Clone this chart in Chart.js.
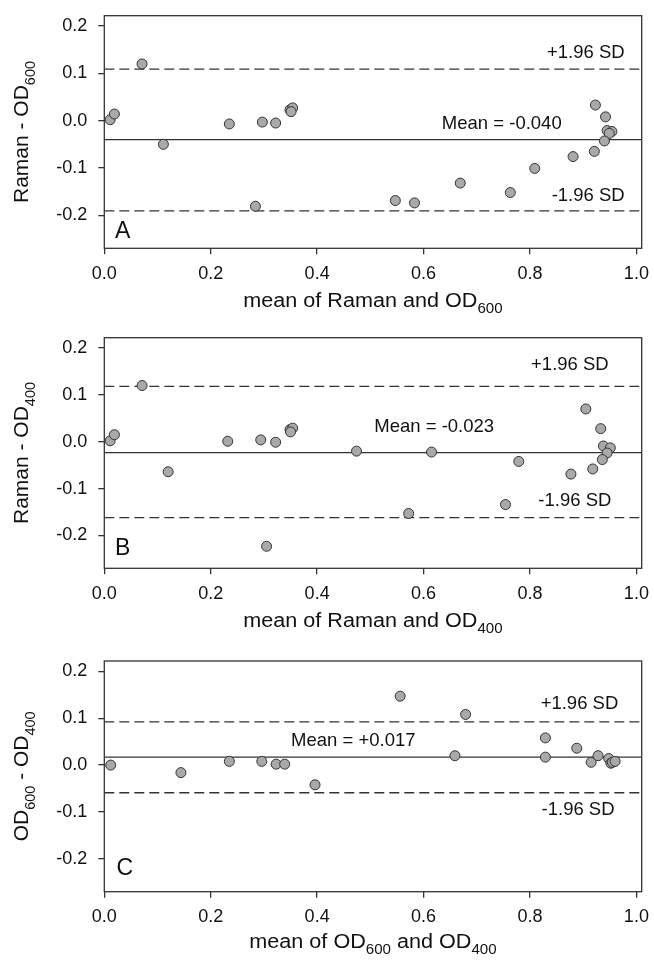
<!DOCTYPE html>
<html>
<head>
<meta charset="utf-8">
<script src="https://cdn.jsdelivr.net/npm/chart.js@4.4.1/dist/chart.umd.min.js"></script>
<style>
  html, body { margin: 0; padding: 0; background: #fff; }
  #wrap { position: relative; width: 654px; height: 964px; }
  canvas { position: absolute; left: 0; }
</style>
</head>
<body>
<div id="wrap">
  <canvas id="chartA" width="654" height="325" style="top:0px"></canvas>
  <canvas id="chartB" width="654" height="325" style="top:320px"></canvas>
  <canvas id="chartC" width="654" height="334" style="top:630px"></canvas>
</div>
<script>
// axes
const X_MIN = 0, X_MAX = 1.01;
const Y_MIN = -0.27, Y_MAX = 0.222;
const xTicks = [0, 0.2, 0.4, 0.6, 0.8, 1.0];
const yTicks = [-0.2, -0.1, 0.0, 0.1, 0.2];

// A : Raman - OD600
const meanA = [0.011, 0.019, 0.071, 0.111, 0.235, 0.284, 0.297, 0.322, 0.349, 0.354, 0.351, 0.547,
               0.583, 0.669, 0.763, 0.809, 0.881, 0.921, 0.923, 0.942, 0.945, 0.954, 0.949, 0.940];
const diffA = [0.002, 0.014, 0.120, -0.050, -0.007, -0.181, -0.003, -0.005, 0.023, 0.027, 0.019, -0.169,
               -0.174, -0.132, -0.152, -0.101, -0.076, -0.065, 0.033, 0.008, -0.021, -0.023, -0.027, -0.043];
const limitsA = [-0.040, 0.109, -0.191]; // mean, +1.96 SD, -1.96 SD

// B : Raman - OD400
const meanB = [0.011, 0.019, 0.071, 0.120, 0.232, 0.294, 0.305, 0.322, 0.349, 0.354, 0.350, 0.474,
               0.572, 0.615, 0.754, 0.779, 0.877, 0.905, 0.918, 0.933, 0.938, 0.951, 0.945, 0.936];
const diffB = [0.002, 0.015, 0.120, -0.064, 0.001, 0.004, -0.223, -0.001, 0.026, 0.029, 0.021, -0.020,
               -0.153, -0.022, -0.134, -0.042, -0.069, 0.070, -0.058, 0.028, -0.009, -0.013, -0.024, -0.038];
const limitsB = [-0.023, 0.118, -0.162];

// C : OD600 - OD400
const meanC = [0.012, 0.144, 0.235, 0.296, 0.323, 0.339, 0.396, 0.556, 0.659, 0.679,
               0.829, 0.829, 0.888, 0.915, 0.928, 0.948, 0.952, 0.955, 0.960];
const diffC = [0.000, -0.016, 0.008, 0.008, 0.002, 0.002, -0.042, 0.147, 0.020, 0.108,
               0.058, 0.017, 0.036, 0.006, 0.020, 0.014, 0.004, 0.006, 0.008];
const limitsC = [0.017, 0.092, -0.059];

const FONT = '"Liberation Sans", Arial, sans-serif';
const INK = '#111';

// texte avec indices (OD600 etc.)
function richWidth(ctx, segs, size, subSize) {
    let w = 0;
    segs.forEach(([t, sub]) => {
        ctx.font = (sub ? subSize : size) + 'px ' + FONT;
        w += ctx.measureText(t).width;
    });
    return w;
}
function richDraw(ctx, segs, size, subSize, drop) {
    let x = 0;
    segs.forEach(([t, sub]) => {
        ctx.font = (sub ? subSize : size) + 'px ' + FONT;
        ctx.fillText(t, x, sub ? drop : 0);
        x += ctx.measureText(t).width;
    });
}

const panelDeco = {
    id: 'panelDeco',
    afterDraw(chart, args, opts) {
        const { ctx, chartArea: a } = chart;
        const { x, y } = chart.scales;
        ctx.save();

        // cadre
        ctx.strokeStyle = '#333';
        ctx.lineWidth = 1.3;
        ctx.strokeRect(a.left, a.top, a.right - a.left, a.bottom - a.top);

        // étiquettes des lignes
        ctx.fillStyle = INK;
        ctx.textBaseline = 'middle';
        ctx.font = '18.5px ' + FONT;
        opts.labels.forEach(l => {
            ctx.textAlign = l.align;
            ctx.fillText(l.text, x.getPixelForValue(l.x), y.getPixelForValue(l.y));
        });

        // lettre du panneau
        ctx.font = '23px ' + FONT;
        ctx.textAlign = 'left';
        ctx.fillText(opts.letter, x.getPixelForValue(opts.letterAt[0]), y.getPixelForValue(opts.letterAt[1]));

        // titre x
        ctx.textAlign = 'left';
        ctx.textBaseline = 'alphabetic';
        const sx = 1.08;
        const wx = richWidth(ctx, opts.xTitle, 20, 14) * sx;
        ctx.save();
        ctx.translate((a.left + a.right) / 2 - wx / 2, a.bottom + opts.xTitleGap);
        ctx.scale(sx, 1);
        richDraw(ctx, opts.xTitle, 20, 14, 6);
        ctx.restore();

        // titre y
        const wy = richWidth(ctx, opts.yTitle, 21, 14.5);
        ctx.save();
        ctx.translate(a.left - 76, (a.top + a.bottom) / 2 + wy / 2);
        ctx.rotate(-Math.PI / 2);
        richDraw(ctx, opts.yTitle, 21, 14.5, 7);
        ctx.restore();

        ctx.restore();
    }
};

function refLine(v, dash) {
    return {
        type: 'line',
        data: [{ x: X_MIN, y: v }, { x: X_MAX, y: v }],
        borderColor: '#333',
        borderWidth: 1.3,
        borderDash: dash,
        pointRadius: 0,
        fill: false
    };
}

function makeChart(id, xs, ys, limits, pad, deco) {
    const pts = xs.map((v, i) => ({ x: v, y: ys[i] }));
    return new Chart(document.getElementById(id), {
        type: 'scatter',
        data: {
            datasets: [
                {
                    data: pts,
                    pointRadius: 5,
                    backgroundColor: '#a9a9a9',
                    borderColor: '#333',
                    borderWidth: 1
                },
                refLine(limits[0], []),
                refLine(limits[1], [10, 5]),
                refLine(limits[2], [10, 5])
            ]
        },
        options: {
            responsive: false,
            animation: false,
            layout: { padding: { top: pad[0], right: 12.3, bottom: pad[1], left: 0 } },
            plugins: {
                legend: { display: false },
                tooltip: { enabled: false },
                panelDeco: deco
            },
            scales: {
                x: {
                    type: 'linear',
                    min: X_MIN,
                    max: X_MAX,
                    afterBuildTicks: s => { s.ticks = xTicks.map(v => ({ value: v })); },
                    afterFit: s => { s.height = 40; s.paddingLeft = 0; s.paddingRight = 0; },
                    border: { display: false },
                    grid: { drawOnChartArea: false, drawTicks: true, tickLength: 6, color: '#333', lineWidth: 1.3 },
                    ticks: {
                        padding: 9, color: INK, maxRotation: 0, autoSkip: false,
                        font: { family: FONT, size: 18 },
                        callback: v => v.toFixed(1)
                    }
                },
                y: {
                    type: 'linear',
                    min: Y_MIN,
                    max: Y_MAX,
                    afterBuildTicks: s => { s.ticks = yTicks.map(v => ({ value: v })); },
                    afterFit: s => { s.width = 104.3; s.paddingTop = 0; s.paddingBottom = 0; },
                    border: { display: false },
                    grid: { drawOnChartArea: false, drawTicks: true, tickLength: 6, color: '#333', lineWidth: 1.3 },
                    ticks: {
                        padding: 11, color: INK,
                        font: { family: FONT, size: 18 },
                        callback: v => v.toFixed(1)
                    }
                }
            }
        },
        plugins: [panelDeco]
    });
}

makeChart('chartA', meanA, diffA, limitsA, [15.7, 36.7], {
    letter: 'A', letterAt: [0.020, -0.234],
    xTitle: [['mean of Raman and OD', false], ['600', true]],
    yTitle: [['Raman - OD', false], ['600', true]],
    xTitleGap: 59,
    labels: [
        { text: '+1.96 SD', x: 0.978, y: 0.144, align: 'right' },
        { text: 'Mean = -0.040', x: 0.747, y: -0.006, align: 'center' },
        { text: '-1.96 SD', x: 0.978, y: -0.160, align: 'right' }
    ]
});

makeChart('chartB', meanB, diffB, limitsB, [17.7, 36.7], {
    letter: 'B', letterAt: [0.020, -0.229],
    xTitle: [['mean of Raman and OD', false], ['400', true]],
    yTitle: [['Raman - OD', false], ['400', true]],
    xTitleGap: 59,
    labels: [
        { text: '+1.96 SD', x: 0.948, y: 0.163, align: 'right' },
        { text: 'Mean = -0.023', x: 0.620, y: 0.032, align: 'center' },
        { text: '-1.96 SD', x: 0.953, y: -0.126, align: 'right' }
    ]
});

makeChart('chartC', meanC, diffC, limitsC, [31, 32.3], {
    letter: 'C', letterAt: [0.023, -0.220],
    xTitle: [['mean of OD', false], ['600', true], [' and OD', false], ['400', true]],
    yTitle: [['OD', false], ['600', true], [' - OD', false], ['400', true]],
    xTitleGap: 56,
    labels: [
        { text: '+1.96 SD', x: 0.966, y: 0.130, align: 'right' },
        { text: 'Mean = +0.017', x: 0.468, y: 0.051, align: 'center' },
        { text: '-1.96 SD', x: 0.959, y: -0.095, align: 'right' }
    ]
});
</script>
</body>
</html>
